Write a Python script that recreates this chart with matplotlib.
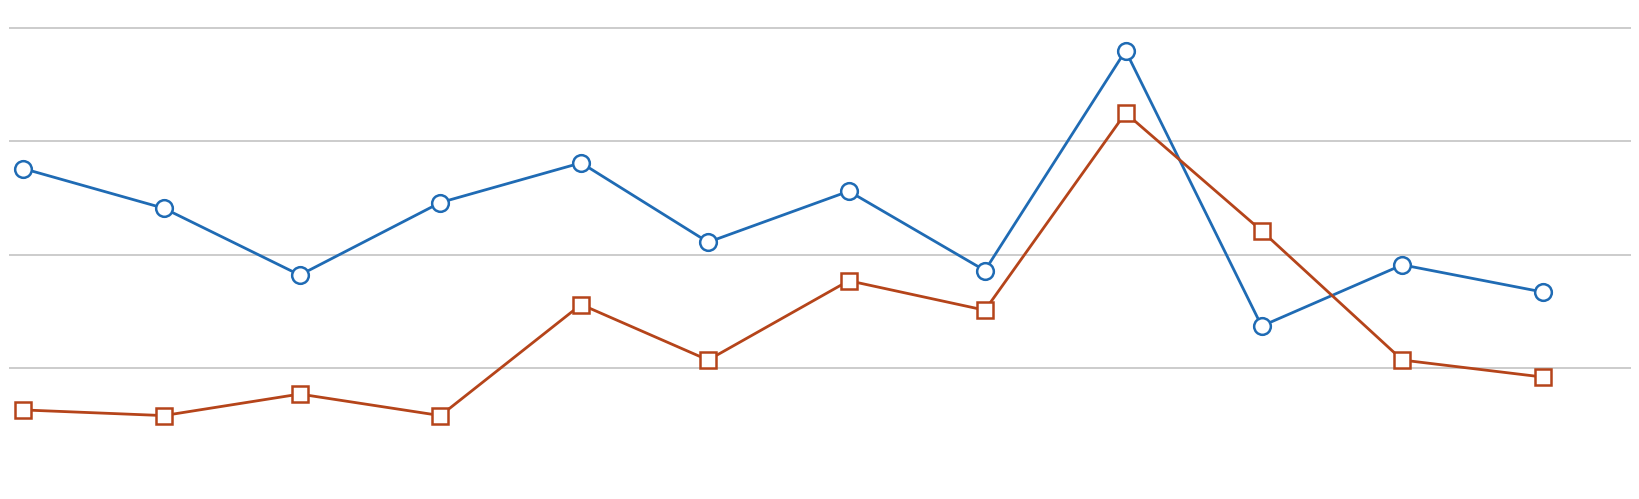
import numpy as np
import pandas as pd
import matplotlib
matplotlib.use("Agg")
import matplotlib.pyplot as plt

# Дані (місячні точки, жовтень - вересень)
months = pd.date_range("2018-10-01", "2019-09-01", freq="MS")
blue_vals = [2.76, 2.41, 1.82, 2.46, 2.81, 2.11, 2.56, 1.86, 3.80, 1.37, 1.91, 1.67]
orange_vals = [0.63, 0.58, 0.77, 0.58, 1.56, 1.07, 1.77, 1.51, 3.25, 2.21, 1.07, 0.92]
grid_levels = [1, 2, 3, 4]

fig = plt.figure(figsize=(16.4, 4.99), dpi=100)
ax = fig.add_axes([9 / 1640, 0, 1622 / 1640, 1])

ax.plot(months, blue_vals, color="#1f6bb4", linewidth=2.0, marker="o",
        markersize=12, markerfacecolor="white", markeredgewidth=1.8, zorder=3)
ax.plot(months, orange_vals, color="#b5441a", linewidth=2.0, marker="s",
        markersize=11, markerfacecolor="white", markeredgewidth=1.8, zorder=3)

# Сітка
ax.set_yticks(grid_levels)
ax.yaxis.grid(True, color="#c4c4c4", linewidth=1.2)
ax.set_axisbelow(True)

ax.set_xlim(months[0] - pd.Timedelta(days=3.09), months[-1] + pd.Timedelta(days=19.4))
ax.set_ylim(-0.156, 4.247)

for s in ax.spines.values():
    s.set_visible(False)
ax.tick_params(left=False, bottom=False, labelleft=False, labelbottom=False)

fig.savefig("out.png", dpi=100, facecolor="white")
